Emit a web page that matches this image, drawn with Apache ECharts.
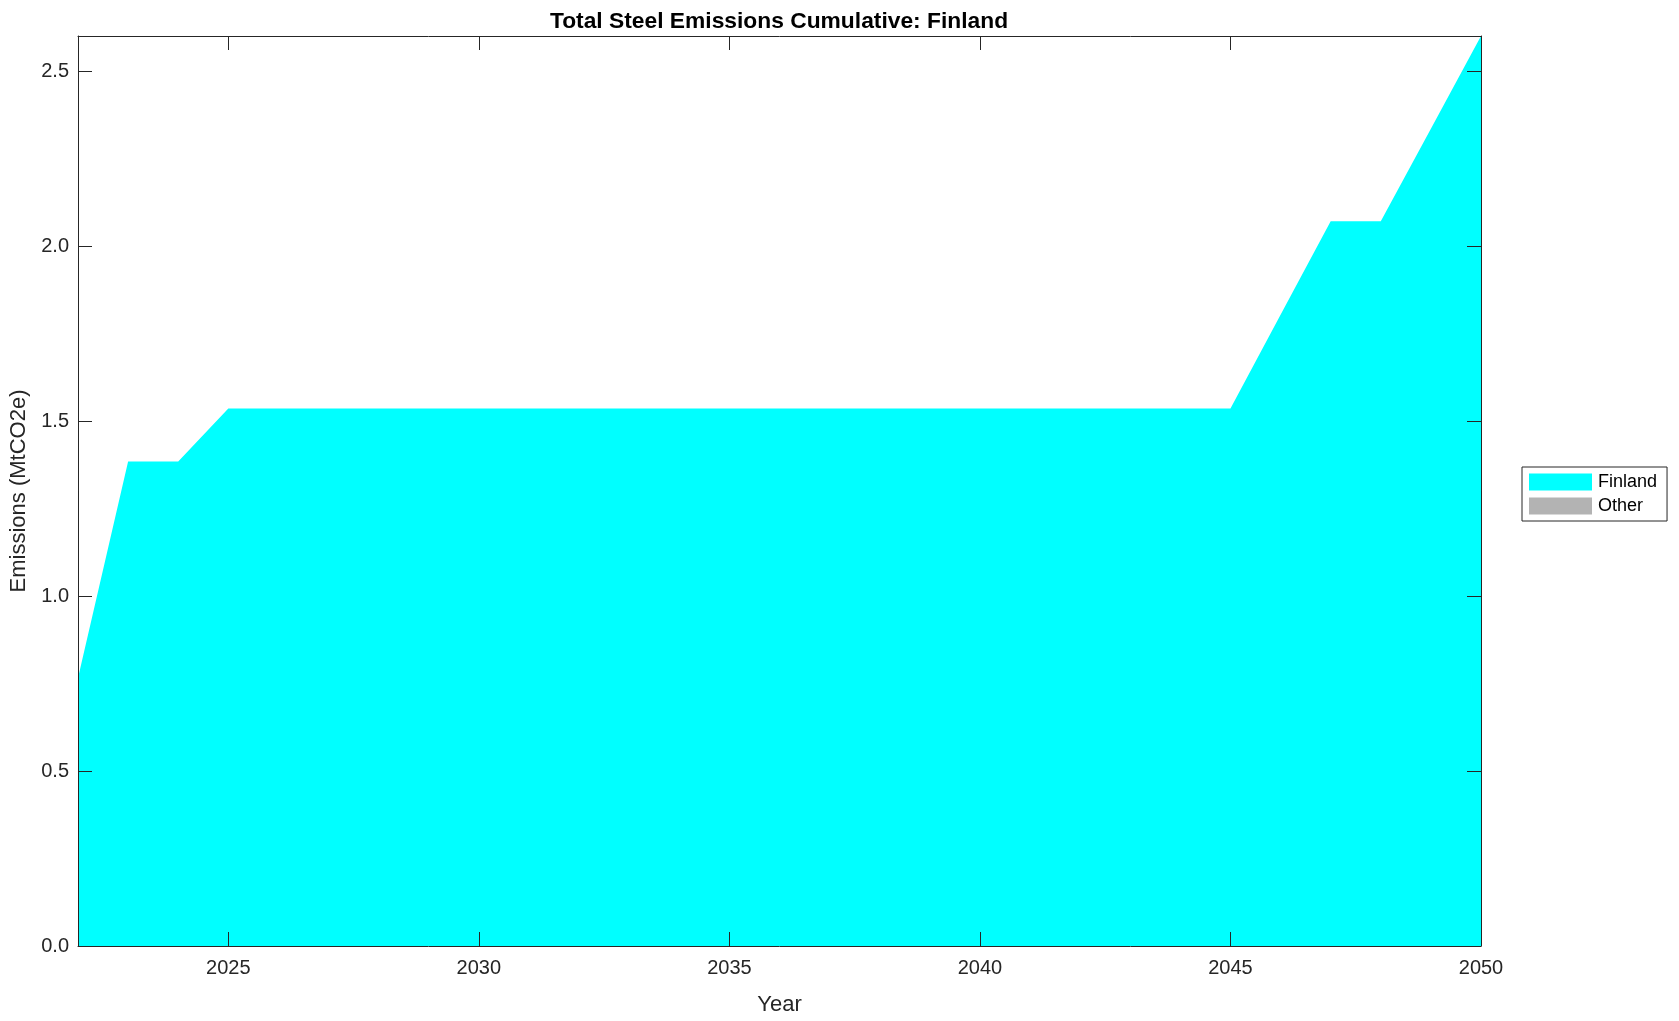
<!DOCTYPE html>
<html>
<head>
<meta charset="utf-8">
<script src="https://cdn.jsdelivr.net/npm/echarts@6/dist/echarts.min.js"></script>
<style>
html,body{margin:0;padding:0;background:#fff;}
#chart{width:1679px;height:1021px;}
</style>
</head>
<body>
<div id="chart"></div>
<script>
const years = [2022,2023,2024,2025,2026,2027,2028,2029,2030,2031,2032,2033,2034,2035,2036,2037,2038,2039,2040,2041,2042,2043,2044,2045,2046,2047,2048,2049,2050];
const finland = [0.766,1.385,1.385,1.537,1.537,1.537,1.537,1.537,1.537,1.537,1.537,1.537,1.537,1.537,1.537,1.537,1.537,1.537,1.537,1.537,1.537,1.537,1.537,1.537,1.805,2.072,2.072,2.337,2.602];
const other = [0,0,0,0,0,0,0,0,0,0,0,0,0,0,0,0,0,0,0,0,0,0,0,0,0,0,0,0,0];
const seriesNames = ['Finland','Other'];
const titleText = 'Total Steel Emissions Cumulative: Finland';
const xName = 'Year';
const yName = 'Emissions (MtCO2e)';

const FONT = '"Liberation Sans", Arial, Helvetica, sans-serif';
const AX = '#262626';
const chart = echarts.init(document.getElementById('chart'), null, {renderer:'canvas'});
const pairs = arr => years.map((y,i)=>[y,arr[i]]);
const yMax = Math.max(...finland.map((v,i)=>v+other[i]));

const axisCommon = () => ({
  z:10,
  axisLine:{show:true,onZero:false,lineStyle:{color:AX,width:1}},
  axisTick:{show:true,inside:true,length:14,lineStyle:{color:AX,width:1}},
  splitLine:{show:false}
});

chart.setOption({
  animation:false,
  backgroundColor:'#fff',
  title:{text:titleText,left:774,textAlign:'center',top:5,
    textStyle:{fontFamily:FONT,fontSize:22.8,fontWeight:'bold',color:'#000'}},
  legend:{orient:'vertical',left:1522,top:467,padding:[6,10,6,7],itemGap:6,
    itemWidth:63,itemHeight:17,borderColor:AX,borderWidth:1,
    icon:'rect',
    textStyle:{fontFamily:FONT,fontSize:18,color:'#000',padding:[0,0,0,1]},
    data:seriesNames},
  grid:{left:76,top:36,right:198,bottom:68,containLabel:false},
  xAxis:[
    Object.assign(axisCommon(),{type:'value',min:2022,max:2050,position:'bottom',
      name:xName,nameLocation:'middle',nameGap:48,
      nameTextStyle:{fontFamily:FONT,fontSize:22,color:AX},
      axisLabel:{fontFamily:FONT,fontSize:20,color:AX,margin:12,showMinLabel:false,
        formatter:v=>(v%5===0?String(v):'')}}),
    Object.assign(axisCommon(),{type:'value',min:2022,max:2050,position:'top',
      axisLabel:{show:false}})
  ],
  yAxis:[
    Object.assign(axisCommon(),{type:'value',min:0,max:yMax,interval:0.5,position:'left',
      name:yName,nameLocation:'middle',nameGap:48,
      nameTextStyle:{fontFamily:FONT,fontSize:22,color:AX},
      axisLabel:{fontFamily:FONT,fontSize:20,color:AX,margin:9,showMaxLabel:false,
        formatter:v=>(Math.abs(v/0.5-Math.round(v/0.5))<1e-9?v.toFixed(1):'')}}),
    Object.assign(axisCommon(),{type:'value',min:0,max:yMax,interval:0.5,position:'right',
      axisLabel:{show:false}})
  ],
  series:[
    {name:seriesNames[0],type:'line',stack:'total',data:pairs(finland),symbol:'none',
      lineStyle:{width:0},itemStyle:{color:'#00ffff'},areaStyle:{color:'#00ffff',opacity:1}},
    {name:seriesNames[1],type:'line',stack:'total',data:pairs(other),symbol:'none',
      lineStyle:{width:0},itemStyle:{color:'#b3b3b3'},areaStyle:{color:'#b3b3b3',opacity:1}}
  ]
});
</script>
</body>
</html>
